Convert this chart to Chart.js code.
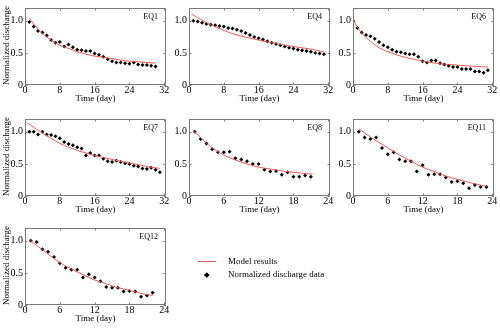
<!DOCTYPE html>
<html>
<head>
<meta charset="utf-8">
<script src="https://cdn.jsdelivr.net/npm/chart.js@4.4.0/dist/chart.umd.min.js"></script>
<style>
  body { margin: 0; background: #fff; width: 500px; height: 329px; position: relative; overflow: hidden;
         font-family: "Liberation Serif", "Times New Roman", serif; }
  .panel { position: absolute; }
  .panel canvas { display: block; }
  .leg-text { position: absolute; font-size: 9px; line-height: 9px; color: #000; white-space: nowrap; }
</style>
</head>
<body>
<div class="panel" style="left:0px;top:0px"><canvas id="eq1" width="172" height="104"></canvas></div>
<div class="panel" style="left:164px;top:0px"><canvas id="eq4" width="172" height="104"></canvas></div>
<div class="panel" style="left:328px;top:0px"><canvas id="eq6" width="172" height="104"></canvas></div>
<div class="panel" style="left:0px;top:111px"><canvas id="eq7" width="172" height="104"></canvas></div>
<div class="panel" style="left:164px;top:111px"><canvas id="eq8" width="172" height="104"></canvas></div>
<div class="panel" style="left:328px;top:111px"><canvas id="eq11" width="172" height="104"></canvas></div>
<div class="panel" style="left:0px;top:220px"><canvas id="eq12" width="172" height="104"></canvas></div>

<!-- legend -->
<div style="position:absolute;left:198px;top:261px;width:18px;height:1px;background:rgb(240,90,90)"></div>
<div class="leg-text" style="left:228px;top:257px">Model results</div>
<div style="position:absolute;left:205px;top:273px;width:3.5px;height:3.5px;background:#000;transform:rotate(45deg)"></div>
<div class="leg-text" style="left:228px;top:270px">Normalized discharge data</div>

<script>
const eq1Days = [1,2,3,4,5,6,7,8,9,10,11,12,13,14,15,16,17,18,19,20,21,22,23,24,25,26,27,28,29,30];
const eq1Data = [0.98,0.91,0.84,0.82,0.77,0.70,0.66,0.67,0.60,0.63,0.59,0.55,0.54,0.53,0.53,0.49,0.47,0.44,0.40,0.37,0.35,0.35,0.34,0.33,0.35,0.32,0.31,0.31,0.30,0.29];
const eq1ModelDays = [1,2,3,4,5,6,7,8,10,12,14,16,18,20,22,24,26,28,30];
const eq1Model = [1.04,0.95,0.87,0.80,0.75,0.70,0.66,0.62,0.57,0.52,0.48,0.45,0.43,0.41,0.39,0.37,0.36,0.35,0.34];

const eq4Days = [1,2,3,4,5,6,7,8,9,10,11,12,13,14,15,16,17,18,19,20,21,22,23,24,25,26,27,28,29,30,31];
const eq4Data = [1.00,0.99,0.97,0.95,0.94,0.93,0.92,0.91,0.89,0.88,0.86,0.84,0.81,0.78,0.75,0.73,0.71,0.68,0.66,0.64,0.62,0.60,0.58,0.57,0.55,0.54,0.53,0.52,0.50,0.49,0.48];
const eq4ModelDays = [0.5,2,4,6,8,10,12,14,16,18,20,22,24,26,28,30,31];
const eq4Model = [1.11,1.05,0.97,0.91,0.85,0.80,0.76,0.73,0.70,0.67,0.65,0.62,0.60,0.58,0.56,0.53,0.52];

const eq6Days = [0,1,2,3,4,5,6,7,8,9,10,11,12,13,14,15,16,17,18,19,20,21,22,23,24,25,26,27,28,29,30,31];
const eq6Data = [1.00,0.89,0.82,0.78,0.76,0.72,0.67,0.62,0.59,0.55,0.52,0.51,0.49,0.48,0.48,0.44,0.37,0.35,0.38,0.38,0.34,0.32,0.30,0.28,0.28,0.25,0.25,0.25,0.21,0.21,0.19,0.23];
const eq6ModelDays = [0,1,2,3,4,6,8,10,12,14,16,18,20,22,24,26,28,31];
const eq6Model = [1.03,0.90,0.81,0.74,0.68,0.58,0.52,0.47,0.43,0.40,0.37,0.35,0.33,0.32,0.31,0.30,0.29,0.28];

const eq7Days = [1,2,3,4,5,6,7,8,9,10,11,12,13,14,15,16,17,18,19,20,21,22,23,24,25,26,27,28,29,30,31];
const eq7Data = [1.00,1.00,0.96,1.00,0.96,0.95,0.93,0.90,0.84,0.81,0.79,0.76,0.74,0.63,0.67,0.63,0.63,0.58,0.54,0.53,0.55,0.53,0.51,0.50,0.47,0.46,0.43,0.42,0.44,0.41,0.37];
const eq7ModelDays = [0.5,2,4,6,8,10,12,14,16,18,20,22,24,26,28,31];
const eq7Model = [1.14,1.07,0.98,0.90,0.82,0.76,0.71,0.67,0.63,0.60,0.57,0.54,0.51,0.49,0.46,0.43];

const eq8Days = [1,2,3,4,5,6,7,8,9,10,11,12,13,14,15,16,17,18,19,20,21];
const eq8Data = [1.00,0.89,0.82,0.73,0.68,0.68,0.69,0.59,0.57,0.54,0.50,0.50,0.41,0.38,0.39,0.33,0.37,0.30,0.30,0.32,0.30];
const eq8ModelDays = [0.7,2,3,4,5,6,8,10,12,14,16,18,20,21.3];
const eq8Model = [1.02,0.91,0.82,0.75,0.69,0.64,0.56,0.50,0.45,0.42,0.39,0.37,0.35,0.34];

const eq11Days = [1,2,3,4,5,6,7,8,9,10,11,12,13,14,15,16,17,18,19,20,21,22,23];
const eq11Data = [1.00,0.91,0.89,0.91,0.75,0.65,0.68,0.57,0.54,0.54,0.38,0.48,0.33,0.34,0.34,0.29,0.22,0.23,0.20,0.12,0.17,0.14,0.14];
const eq11ModelDays = [1,2,3,4,6,8,10,12,14,16,18,20,22,23];
const eq11Model = [1.05,0.98,0.92,0.86,0.75,0.64,0.54,0.45,0.38,0.31,0.26,0.21,0.17,0.15];

const eq12Days = [1,2,3,4,5,6,7,8,9,10,11,12,13,14,15,16,17,18,19,20,21,22];
const eq12Data = [1.00,0.98,0.87,0.83,0.75,0.65,0.58,0.55,0.55,0.43,0.48,0.43,0.37,0.28,0.27,0.27,0.21,0.22,0.21,0.13,0.15,0.19];
const eq12ModelDays = [0.8,2,3,4,6,8,10,12,14,16,18,20,22];
const eq12Model = [1.01,0.93,0.86,0.79,0.66,0.56,0.47,0.39,0.33,0.27,0.23,0.18,0.15];

const serif = '"Liberation Serif", "Times New Roman", serif';
const modelColor = 'rgb(240,90,90)';

// grey box round the plot, small inward ticks, panel name in the corner
const framePlugin = {
    id: 'frame',
    afterDatasetsDraw(chart, args, opts) {
        const ctx = chart.ctx;
        const a = chart.chartArea;
        const x = chart.scales.x, y = chart.scales.y;
        ctx.save();
        ctx.strokeStyle = '#7a7a7a';
        ctx.lineWidth = 1;
        ctx.beginPath();
        ctx.rect(Math.round(a.left) + 0.5, Math.round(a.top) + 0.5,
                 Math.round(a.right - a.left) - 1, Math.round(a.bottom - a.top) - 1);
        x.ticks.forEach(t => {
            const px = Math.round(x.getPixelForValue(t.value)) + 0.5;
            ctx.moveTo(px, a.bottom); ctx.lineTo(px, a.bottom - 2.5);
            ctx.moveTo(px, a.top); ctx.lineTo(px, a.top + 2.5);
        });
        y.ticks.forEach(t => {
            const py = Math.round(y.getPixelForValue(t.value)) + 0.5;
            ctx.moveTo(a.left, py); ctx.lineTo(a.left + 2.5, py);
            ctx.moveTo(a.right, py); ctx.lineTo(a.right - 2.5, py);
        });
        ctx.stroke();
        ctx.fillStyle = '#000';
        ctx.font = '8px ' + serif;
        ctx.textAlign = 'right';
        ctx.textBaseline = 'middle';
        ctx.fillText(opts.label, a.right - 8, a.top + 9);
        ctx.restore();
    }
};

function toPoints(xs, ys) {
    return xs.map((d, i) => ({ x: d, y: ys[i] }));
}

function makePanel(id, label, days, data, mDays, model, xMax, xStep, yTitle) {
    new Chart(document.getElementById(id), {
        type: 'scatter',
        data: {
            datasets: [{
                type: 'line',
                label: 'Model results',
                data: toPoints(mDays, model),
                borderColor: modelColor,
                borderWidth: 1,
                pointRadius: 0,
                cubicInterpolationMode: 'monotone',
                fill: false
            }, {
                label: 'Normalized discharge data',
                data: toPoints(days, data),
                pointStyle: 'rectRot',
                pointRadius: 2,
                backgroundColor: '#000',
                borderWidth: 0
            }]
        },
        options: {
            responsive: false,
            animation: false,
            events: [],
            layout: { padding: { top: 3, right: 6, left: 0, bottom: 0 } },
            plugins: {
                legend: { display: false },
                tooltip: { enabled: false },
                frame: { label: label }
            },
            scales: {
                x: {
                    type: 'linear',
                    min: 0,
                    max: xMax,
                    grid: { display: false, drawTicks: false },
                    border: { display: false },
                    ticks: {
                        stepSize: xStep,
                        includeBounds: false,
                        padding: 0,
                        maxRotation: 0,
                        autoSkip: false,
                        color: '#000',
                        font: { family: serif, size: 10, lineHeight: 1 }
                    },
                    title: {
                        display: true,
                        text: 'Time (day)',
                        color: '#000',
                        padding: 0,
                        font: { family: serif, size: 9 }
                    },
                    afterFit(s) { s.height = 19; }
                },
                y: {
                    min: 0,
                    max: 1.2,
                    grid: { display: false, drawTicks: false },
                    border: { display: false },
                    ticks: {
                        stepSize: 0.5,
                        includeBounds: false,
                        padding: 2,
                        color: '#000',
                        font: { family: serif, size: 10 },
                        callback: v => v === 0 ? '0' : v.toFixed(1)
                    },
                    title: {
                        display: yTitle,
                        text: 'Normalized discharge',
                        color: '#000',
                        align: 'start',
                        padding: { top: 1.5, bottom: 0 },
                        font: { family: serif, size: 9 }
                    },
                    afterFit(s) { s.width = 25; }
                }
            }
        },
        plugins: [framePlugin]
    });
}

makePanel('eq1', 'EQ1', eq1Days, eq1Data, eq1ModelDays, eq1Model, 32.4, 8, true);
makePanel('eq4', 'EQ4', eq4Days, eq4Data, eq4ModelDays, eq4Model, 32.4, 8, false);
makePanel('eq6', 'EQ6', eq6Days, eq6Data, eq6ModelDays, eq6Model, 32.4, 8, false);
makePanel('eq7', 'EQ7', eq7Days, eq7Data, eq7ModelDays, eq7Model, 32.4, 8, true);
makePanel('eq8', 'EQ8', eq8Days, eq8Data, eq8ModelDays, eq8Model, 24.3, 6, false);
makePanel('eq11', 'EQ11', eq11Days, eq11Data, eq11ModelDays, eq11Model, 24.3, 6, false);
makePanel('eq12', 'EQ12', eq12Days, eq12Data, eq12ModelDays, eq12Model, 24.3, 6, true);
</script>
</body>
</html>
